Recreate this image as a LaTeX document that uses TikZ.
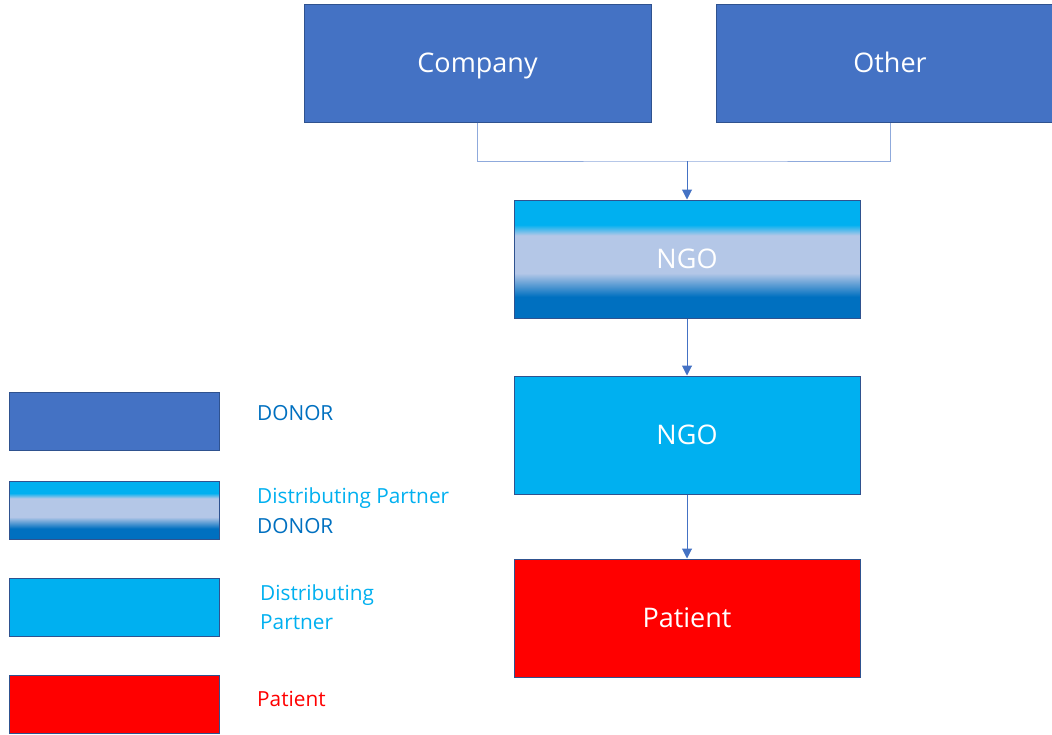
\documentclass[tikz,border=0pt]{standalone}
\usepackage{fontspec}
\setmainfont{Open Sans}
\usetikzlibrary{arrows.meta}
\definecolor{donorblue}{HTML}{4472C4}
\definecolor{edgeblue}{HTML}{2F528F}
\definecolor{dpcyan}{HTML}{00B0F0}
\definecolor{lav}{HTML}{B4C7E7}
\definecolor{deepblue}{HTML}{0070C0}
\definecolor{elbow}{HTML}{8FAADC}
\pgfdeclareverticalshading{ngoshade}{100bp}{color(0bp)=(deepblue); color(34bp)=(deepblue); color(44bp)=(lav); color(60bp)=(lav); color(64.5bp)=(dpcyan); color(100bp)=(dpcyan)}
\tikzset{
  box/.style={draw=edgeblue, line width=1pt, inner sep=0pt, text=white,
    font=\fontsize{27}{32}\selectfont, text height=19.3pt, text depth=0pt},
  bigbox/.style={box, minimum width=346pt, minimum height=118pt},
  legbox/.style={box, minimum width=210pt, minimum height=58pt},
  donorfill/.style={fill=donorblue},
  dpfill/.style={fill=dpcyan},
  mixfill/.style={shading=ngoshade},
  patfill/.style={fill=red},
  legtext/.style={anchor=west, inner sep=0pt, align=left,
    font=\fontsize{20.8}{29.5}\selectfont},
  flow/.style={draw=donorblue, line width=1pt, -{Triangle[length=10pt,width=10pt]}},
  joinline/.style={draw=elbow, line width=1pt}
}
\begin{document}
\begin{tikzpicture}[x=1pt,y=-1pt]
\clip (0,0) rectangle (1052,734);
\fill[white] (0,0) rectangle (1052,734);
% main chart
\node[bigbox, donorfill, minimum width=347pt] (company) at (477.5,63) {Company};
\node[bigbox, donorfill, minimum width=348pt] (other) at (890,63) {Other};
\node[bigbox, mixfill] (ngo1) at (687,259) {NGO};
\node[bigbox, dpfill] (ngo2) at (687,435) {NGO};
\node[bigbox, patfill] (patient) at (687,618) {Patient};
\coordinate (junction) at (687,161);
\draw[joinline] (company.south) |- (junction) -| (other.south);
\draw[flow] (junction) -- (ngo1.north);
\draw[flow] (ngo1.south) -- (ngo2.north);
\draw[flow] (ngo2.south) -- (patient.north);
% legend
\node[legbox, donorfill] (l1) at (114,421) {};
\node[legbox, mixfill] (l2) at (114,510) {};
\node[legbox, dpfill] (l3) at (114,607) {};
\node[legbox, patfill] (l4) at (114,704) {};
\node[legtext, text=deepblue] (t1) at (257,413) {DONOR};
\node[legtext] (t2) at (257,510.5) {\textcolor{dpcyan}{Distributing Partner}\\\textcolor{deepblue}{DONOR}};
\node[legtext, text=dpcyan] (t3) at (260,607) {Distributing\\Partner};
\node[legtext, text=red] (t4) at (257,699) {Patient};
\end{tikzpicture}
\end{document}
